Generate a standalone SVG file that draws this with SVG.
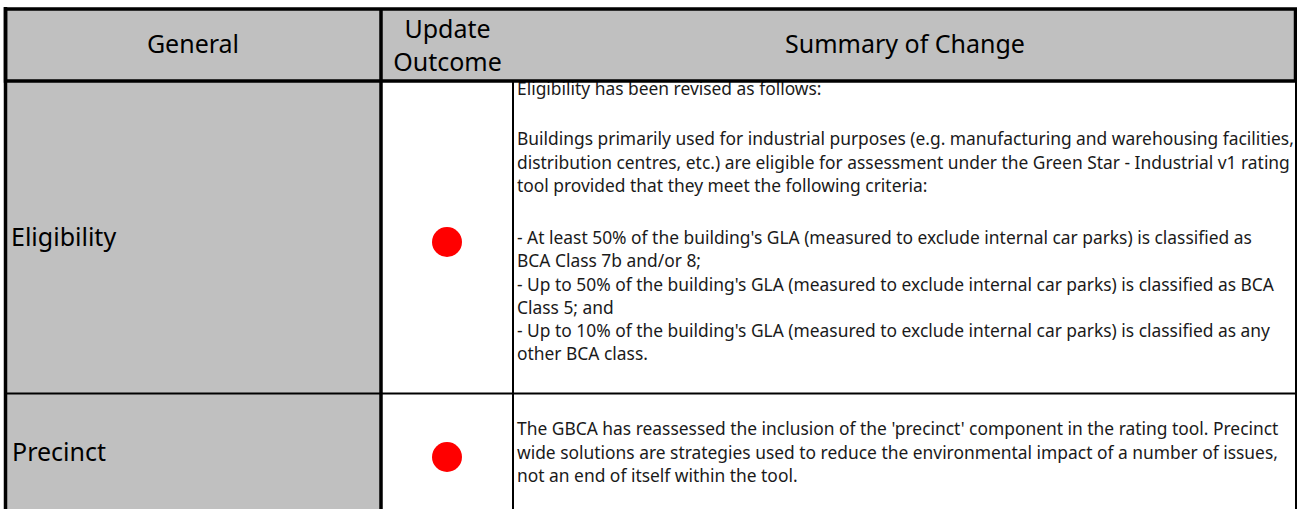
<svg xmlns="http://www.w3.org/2000/svg" width="1297" height="509" viewBox="0 0 1297 509">
<style>
.hd{font-family:"Noto Sans","Open Sans",sans-serif;font-size:25px;fill:#000;text-anchor:middle}
.lbl{font-family:"Noto Sans","Open Sans",sans-serif;font-size:25px;fill:#000}
.bd{font-family:"Noto Sans","Open Sans",sans-serif;font-size:17.4px;fill:#1a1a1a}
.gray{fill:#C0C0C0}
.dot{fill:#FF0000}
</style>
<rect x="0" y="0" width="1297" height="509" fill="#FFFFFF"/>
<g id="header">
<rect class="gray" x="5" y="9" width="1291" height="72"/>
<text class="hd" x="193" y="53">General</text>
<text class="hd" x="447.5" y="37.5">Update</text>
<text class="hd" x="447.5" y="70.5">Outcome</text>
<text class="hd" x="905" y="53">Summary of Change</text>
</g>
<g id="row-eligibility">
<rect class="gray" x="5" y="81" width="376" height="312"/>
<text class="lbl" x="11" y="246">Eligibility</text>
<circle class="dot" cx="447" cy="242" r="15"/>
<text class="bd" x="517" y="95">Eligibility has been revised as follows:</text>
<text class="bd" x="517" y="145">Buildings primarily used for industrial purposes (e.g. manufacturing and warehousing facilities,</text>
<text class="bd" x="517" y="168.5">distribution centres, etc.) are eligible for assessment under the Green Star - Industrial v1 rating</text>
<text class="bd" x="517" y="192">tool provided that they meet the following criteria:</text>
<text class="bd" x="517" y="244">- At least 50% of the building's GLA (measured to exclude internal car parks) is classified as</text>
<text class="bd" x="517" y="267">BCA Class 7b and/or 8;</text>
<text class="bd" x="517" y="290.5">- Up to 50% of the building's GLA (measured to exclude internal car parks) is classified as BCA</text>
<text class="bd" x="517" y="313.5">Class 5; and</text>
<text class="bd" x="517" y="337">- Up to 10% of the building's GLA (measured to exclude internal car parks) is classified as any</text>
<text class="bd" x="517" y="360">other BCA class.</text>
</g>
<g id="row-precinct">
<rect class="gray" x="5" y="394" width="376" height="115"/>
<text class="lbl" x="12" y="461">Precinct</text>
<circle class="dot" cx="447" cy="457" r="15"/>
<text class="bd" x="517" y="435">The GBCA has reassessed the inclusion of the 'precinct' component in the rating tool. Precinct</text>
<text class="bd" x="517" y="458.5">wide solutions are strategies used to reduce the environmental impact of a number of issues,</text>
<text class="bd" x="517" y="482">not an end of itself within the tool.</text>
</g>
<g id="connectors" fill="none" stroke="#000">
<line x1="513" y1="81" x2="513" y2="509" stroke-width="2"/>
<line x1="1296" y1="81" x2="1296" y2="509" stroke-width="2"/>
<line x1="5" y1="393.5" x2="1296" y2="393.5" stroke-width="2"/>
<line x1="381" y1="9" x2="381" y2="509" stroke-width="3.5"/>
<line x1="5.5" y1="7" x2="5.5" y2="509" stroke-width="3.5"/>
<rect x="5.5" y="9" width="1290" height="72" stroke-width="3.5"/>
</g>
</svg>
